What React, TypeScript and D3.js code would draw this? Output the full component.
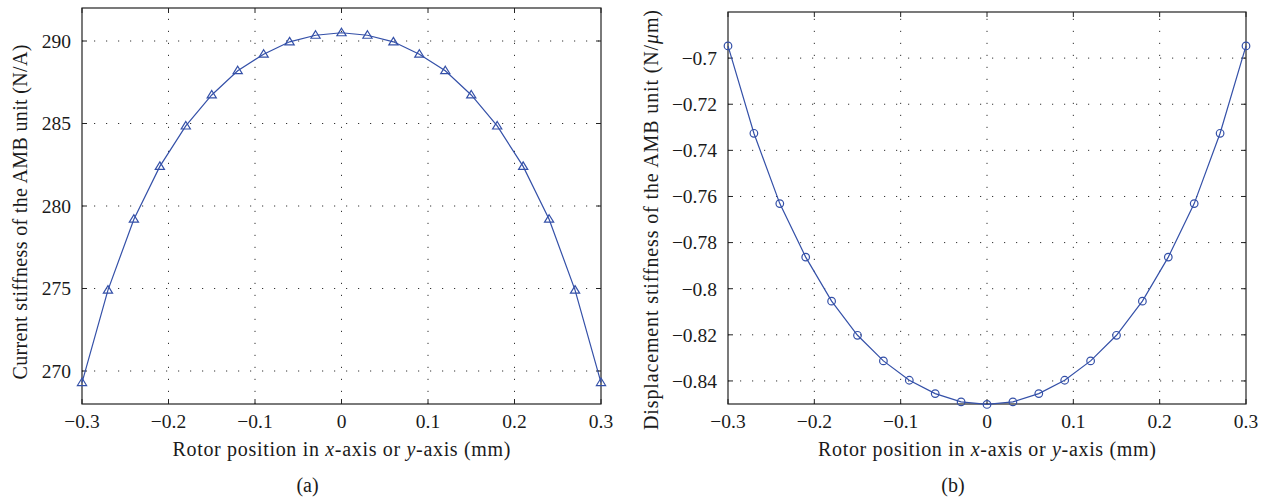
import React from "react";
import * as d3 from "d3";

const positions = [-0.3, -0.27, -0.24, -0.21, -0.18, -0.15, -0.12, -0.09, -0.06, -0.03, 0, 0.03, 0.06, 0.09, 0.12, 0.15, 0.18, 0.21, 0.24, 0.27, 0.3];
const currentStiffness = [269.3, 274.9, 279.2, 282.4, 284.85, 286.73, 288.2, 289.2, 289.95, 290.35, 290.5, 290.35, 289.95, 289.2, 288.2, 286.73, 284.85, 282.4, 279.2, 274.9, 269.3];
const displacementStiffness = [-0.6947, -0.7326, -0.7631, -0.7863, -0.8054, -0.8202, -0.8313, -0.8397, -0.8455, -0.8491, -0.8502, -0.8491, -0.8455, -0.8397, -0.8313, -0.8202, -0.8054, -0.7863, -0.7631, -0.7326, -0.6947];
const xTicks = [-0.3, -0.2, -0.1, 0, 0.1, 0.2, 0.3];
const yTicksA = [270, 275, 280, 285, 290];
const yTicksB = [-0.84, -0.82, -0.8, -0.78, -0.76, -0.74, -0.72, -0.7];
const xDomain: [number, number] = [-0.3, 0.3];
const yDomainA: [number, number] = [268, 292];
const yDomainB: [number, number] = [-0.85, -0.68];

const FONT = "'Liberation Serif', 'Times New Roman', serif";
const BLUE = "#3450a8";
const AXIS = "#222";
const TXT = "#1a1a1a";

const fmt = (v: number) => {
  const s = String(Math.round(v * 1000) / 1000);
  return s.replace("-", "\u2212");
};

type PanelProps = {
  left: number; right: number; top: number; bottom: number;
  yDomain: [number, number]; yTicks: number[]; values: number[];
  marker: "triangle" | "circle"; yLabel: React.ReactNode; yLabelY: number; yLabelX: number; yLabelLen: number; caption: string;
};

function Panel(p: PanelProps) {
  const x = d3.scaleLinear().domain(xDomain).range([p.left, p.right]);
  const y = d3.scaleLinear().domain(p.yDomain).range([p.bottom, p.top]);
  const line = d3.line<number>().x((_, i) => x(positions[i])).y((d) => y(d));
  const pts = positions.map((px, i) => [x(px), y(p.values[i])]);
  const cx = (p.left + p.right) / 2;
  const tickLen = 5;
  return (
    <g>
      {xTicks.slice(1, -1).map((t) => (
        <line key={"gx" + t} x1={x(t)} x2={x(t)} y1={p.bottom} y2={p.top} stroke="#333" strokeWidth={1} strokeDasharray="1.2 10.8" />
      ))}
      {p.yTicks.map((t) => (
        <line key={"gy" + t} x1={p.left} x2={p.right} y1={y(t)} y2={y(t)} stroke="#333" strokeWidth={1} strokeDasharray="1.2 10.8" />
      ))}
      {xTicks.map((t) => (
        <g key={"tx" + t}>
          <line x1={x(t)} x2={x(t)} y1={p.bottom} y2={p.bottom - tickLen} stroke={AXIS} />
          <line x1={x(t)} x2={x(t)} y1={p.top} y2={p.top + tickLen} stroke={AXIS} />
          <text x={x(t)} y={p.bottom + 24} textAnchor="middle" fontSize={19.5} fontFamily={FONT} fill={TXT}>{fmt(t)}</text>
        </g>
      ))}
      {p.yTicks.map((t) => (
        <g key={"ty" + t}>
          <line x1={p.left} x2={p.left + tickLen} y1={y(t)} y2={y(t)} stroke={AXIS} />
          <line x1={p.right} x2={p.right - tickLen} y1={y(t)} y2={y(t)} stroke={AXIS} />
          <text x={p.left - 11} y={y(t)} dy="0.35em" textAnchor="end" fontSize={19.5} fontFamily={FONT} fill={TXT}>{fmt(t)}</text>
        </g>
      ))}
      <rect x={p.left} y={p.top} width={p.right - p.left} height={p.bottom - p.top} fill="none" stroke={AXIS} strokeWidth={1.2} />
      <path d={line(p.values) || ""} fill="none" stroke={BLUE} strokeWidth={1.2} />
      {pts.map(([px, py], i) =>
        p.marker === "circle" ? (
          <circle key={i} cx={px} cy={py} r={3.8} fill="none" stroke={BLUE} strokeWidth={1.2} />
        ) : (
          <path key={i} d={`M${px},${py - 4.5} L${px + 4.6},${py + 3} L${px - 4.6},${py + 3} Z`} fill="none" stroke={BLUE} strokeWidth={1.2} />
        )
      )}
      <text x={cx} y={456} textAnchor="middle" fontSize={20} fontFamily={FONT} fill={TXT} textLength={338} lengthAdjust="spacing">
        Rotor position in <tspan fontStyle="italic">x</tspan>-axis or <tspan fontStyle="italic">y</tspan>-axis (mm)
      </text>
      <text x={cx - 34} y={492} textAnchor="middle" fontSize={20} fontFamily={FONT} fill={TXT}>{p.caption}</text>
      <text transform={`translate(${p.yLabelX},${p.yLabelY}) rotate(-90)`} textAnchor="middle" dy="0.35em" fontSize={20} fontFamily={FONT} fill={TXT}
        textLength={p.yLabelLen} lengthAdjust="spacing">
        {p.yLabel}
      </text>
    </g>
  );
}

export default function App() {
  return (
    <svg width={1267} height={502} style={{ position: "absolute", left: 0, top: 0, background: "#fff" }}>
      <rect width={1267} height={502} fill="#fff" />
      <Panel left={82} right={601} top={8} bottom={404} yDomain={yDomainA} yTicks={yTicksA} values={currentStiffness}
        marker="triangle" yLabel="Current stiffness of the AMB unit (N/A)" yLabelX={20} yLabelY={212} yLabelLen={335} caption="(a)" />
      <Panel left={728} right={1246} top={12} bottom={404} yDomain={yDomainB} yTicks={yTicksB} values={displacementStiffness}
        marker="circle" yLabel={<>Displacement stiffness of the AMB unit (N/<tspan fontStyle="italic">μ</tspan>m)</>} yLabelX={651} yLabelY={220} yLabelLen={420} caption="(b)" />
    </svg>
  );
}
